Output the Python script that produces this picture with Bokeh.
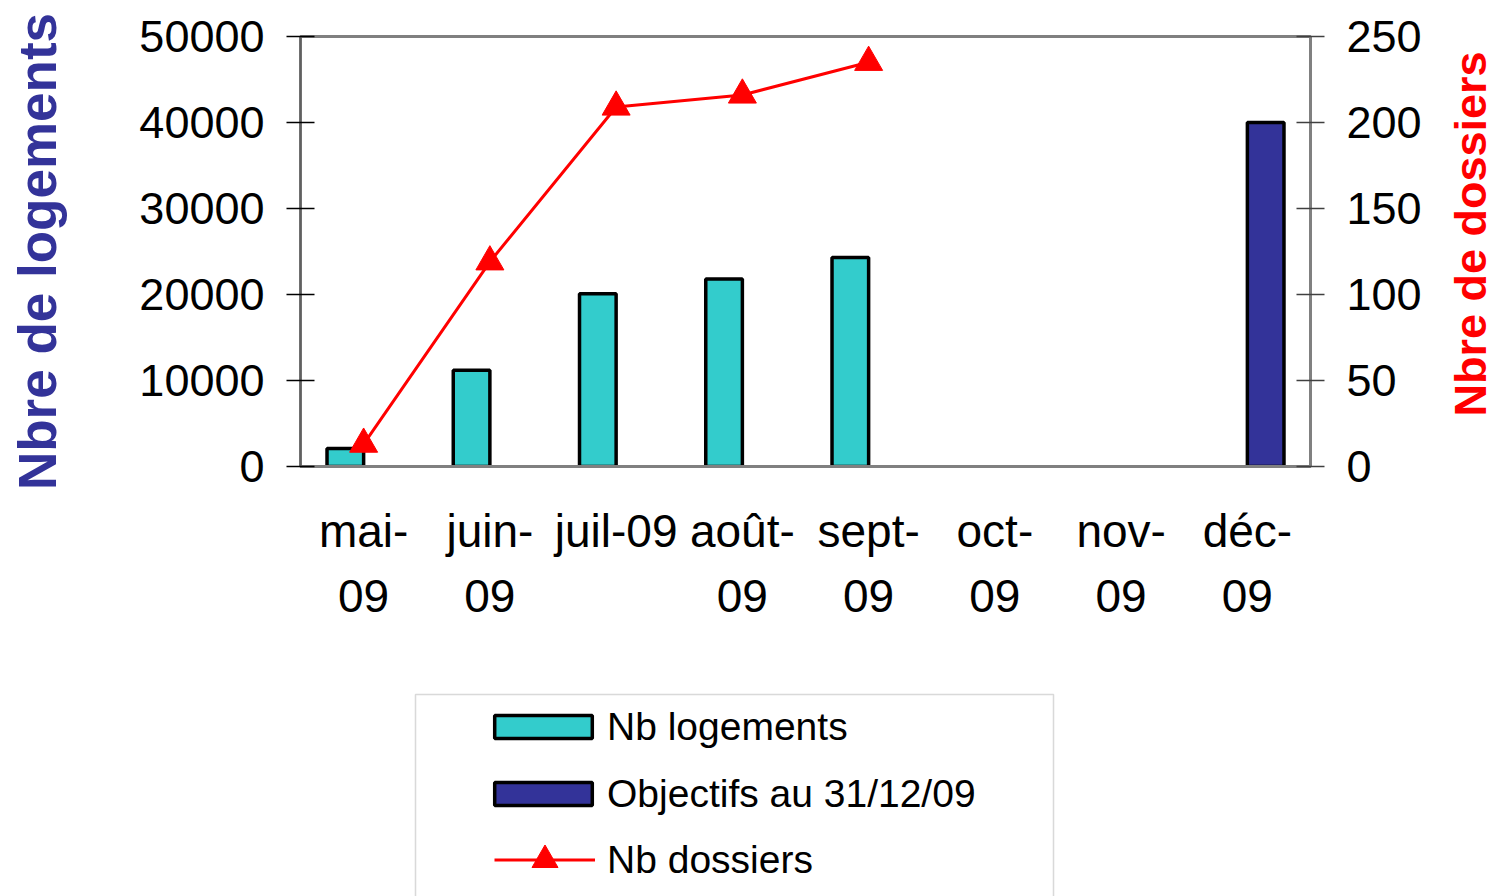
from bokeh.plotting import figure
from bokeh.layouts import column, row
from bokeh.models import (ColumnDataSource, FactorRange, Range1d, LinearAxis, FixedTicker,
                          NumeralTickFormatter, Legend, LegendItem, Label, BoxAnnotation)
from bokeh.transform import dodge
from bokeh.embed import file_html
from bokeh.resources import INLINE
import math

# ---- data ----
months = ["mai-\n09", "juin-\n09", "juil-09", "août-\n09", "sept-\n09", "oct-\n09", "nov-\n09", "déc-\n09"]

logements_months = ["mai-\n09", "juin-\n09", "juil-09", "août-\n09", "sept-\n09"]
nb_logements = [2100, 11200, 20100, 21800, 24300]

objectif_months = ["déc-\n09"]
objectifs = [40000]

dossiers_months = ["mai-\n09", "juin-\n09", "juil-09", "août-\n09", "sept-\n09"]
nb_dossiers = [13, 119, 209, 216, 235]

left_ticks = [0, 10000, 20000, 30000, 40000, 50000]
right_ticks = [0, 50, 100, 150, 200, 250]

series_names = ["Nb logements", "Objectifs au 31/12/09", "Nb dossiers"]
left_title = "Nbre de logements"
right_title = "Nbre de dossiers"

FONT = "Liberation Sans"
TEAL = "#33CCCC"
NAVY = "#333399"
RED = "#FF0000"

x_range = FactorRange(*months)
y_range = Range1d(0, 50000)
y2_range = Range1d(0, 250)

p = figure(x_range=x_range, y_range=y_range,
           width=1440, height=680, output_backend="svg", toolbar_location=None,
           min_border_left=300, min_border_right=130, min_border_top=36, min_border_bottom=214)
p.extra_y_ranges = {"dossiers": y2_range}
p.xgrid.visible = False
p.ygrid.visible = False
p.outline_line_color = "#808080"
p.outline_line_width = 3
p.background_fill_color = "white"
p.border_fill_color = "white"

src_log = ColumnDataSource(dict(m=logements_months, v=nb_logements))
src_obj = ColumnDataSource(dict(m=objectif_months, v=objectifs))
src_dos = ColumnDataSource(dict(m=dossiers_months, v=nb_dossiers))

bar_style = dict(width=0.29, line_color="black", line_width=3.5)
line_style = dict(line_color=RED, line_width=3)
mark_style = dict(marker="triangle", size=28, fill_color=RED, line_color=RED)


def draw_series(fig, visible=True):
    r1 = fig.vbar(x=dodge("m", -0.145, range=x_range), top="v", source=src_log,
                  fill_color=TEAL, visible=visible, **bar_style)
    r2 = fig.vbar(x=dodge("m", 0.145, range=x_range), top="v", source=src_obj,
                  fill_color=NAVY, visible=visible, **bar_style)
    r3 = fig.line(x="m", y="v", source=src_dos, y_range_name="dossiers", visible=visible, **line_style)
    r4 = fig.scatter(x="m", y="v", source=src_dos, y_range_name="dossiers", visible=visible, **mark_style)
    return r1, r2, r3, r4


draw_series(p)

# left axis
ya = p.yaxis[0]
ya.ticker = FixedTicker(ticks=left_ticks)
ya.formatter = NumeralTickFormatter(format="0")
ya.major_label_text_font = FONT
ya.major_label_text_font_size = "45px"
ya.major_label_text_color = "black"
ya.major_tick_in = 14
ya.major_tick_out = 14
ya.major_tick_line_color = "black"
ya.major_tick_line_width = 1.5
ya.minor_tick_line_color = None
ya.axis_line_color = "#606060"
ya.axis_line_width = 2
ya.major_label_standoff = 22
ya.axis_label = left_title
ya.axis_label_text_font = FONT
ya.axis_label_text_font_style = "bold"
ya.axis_label_text_font_size = "53px"
ya.axis_label_text_color = NAVY
ya.axis_label_standoff = 69

# right axis
ra = LinearAxis(y_range_name="dossiers", ticker=FixedTicker(ticks=right_ticks))
ra.major_label_text_font = FONT
ra.major_label_text_font_size = "45px"
ra.major_label_text_color = "black"
ra.major_tick_in = 14
ra.major_tick_out = 14
ra.major_tick_line_color = "#404040"
ra.major_tick_line_width = 1.5
ra.minor_tick_line_color = None
ra.axis_line_color = "#808080"
ra.axis_line_width = 2
ra.major_label_standoff = 22
p.add_layout(ra, "right")

# x axis
xa = p.xaxis[0]
xa.major_label_text_font = FONT
xa.major_label_text_font_size = "46px"
xa.major_label_text_color = "black"
xa.major_label_text_line_height = 1.26
xa.major_tick_line_color = None
xa.major_tick_out = 0
xa.major_tick_in = 0
xa.axis_line_color = "#808080"
xa.axis_line_width = 3
xa.major_label_standoff = 38
xa.major_label_orientation = "horizontal"

# ---- right title strip ----
r = figure(width=50, height=680, x_range=Range1d(0, 1), y_range=Range1d(0, 1),
           output_backend="svg", toolbar_location=None,
           min_border_left=0, min_border_right=0, min_border_top=36, min_border_bottom=214,
           x_axis_location=None, y_axis_location=None)
r.xgrid.visible = False
r.ygrid.visible = False
r.outline_line_color = None
r.background_fill_color = "white"
r.border_fill_color = "white"
r.add_layout(Label(x=30, y=50, x_units="screen", y_units="screen", text=right_title,
                   angle=math.pi / 2, text_align="left", text_baseline="alphabetic",
                   text_font=FONT, text_font_style="bold", text_font_size="45px",
                   text_color=RED))

# ---- legend panel (separate figure below the chart, same ranges, hidden glyphs) ----
q = figure(width=1490, height=216, x_range=x_range, y_range=y_range,
           output_backend="svg", toolbar_location=None,
           min_border_left=300, min_border_right=180, min_border_top=0, min_border_bottom=0,
           x_axis_location=None, y_axis_location=None)
q.extra_y_ranges = {"dossiers": y2_range}
q.xgrid.visible = False
q.ygrid.visible = False
q.outline_line_color = None
q.background_fill_color = "white"
q.border_fill_color = "white"

lb1, lb2, ll, lm = draw_series(q, visible=False)

q.add_layout(BoxAnnotation(left=115, right=753, top=202, bottom=-30,
                           left_units="screen", right_units="screen",
                           top_units="screen", bottom_units="screen",
                           fill_color=None, fill_alpha=0,
                           line_color="#808080", line_width=1.5))


def style_legend(lg):
    lg.click_policy = "none"
    lg.border_line_color = None
    lg.background_fill_alpha = 0
    lg.inactive_fill_alpha = 0
    lg.padding = 0
    lg.margin = 0
    lg.label_height = 45
    lg.label_text_font = FONT
    lg.label_text_font_size = "39px"
    lg.label_text_color = "black"


leg_bars = Legend(items=[LegendItem(label=series_names[0], renderers=[lb1]),
                         LegendItem(label=series_names[1], renderers=[lb2])],
                  location=(182, 80))
style_legend(leg_bars)
leg_bars.spacing = 22
leg_bars.glyph_width = 122
leg_bars.glyph_height = 29
leg_bars.label_standoff = 3
q.add_layout(leg_bars, "center")

leg_line = Legend(items=[LegendItem(label=series_names[2], renderers=[ll, lm])],
                  location=(194, 4))
style_legend(leg_line)
leg_line.glyph_width = 101
leg_line.glyph_height = 65
leg_line.label_standoff = 12
q.add_layout(leg_line, "center")

layout = column(row(p, r, spacing=0), q, spacing=0)
open("out.html", "w").write(file_html(layout, INLINE))
